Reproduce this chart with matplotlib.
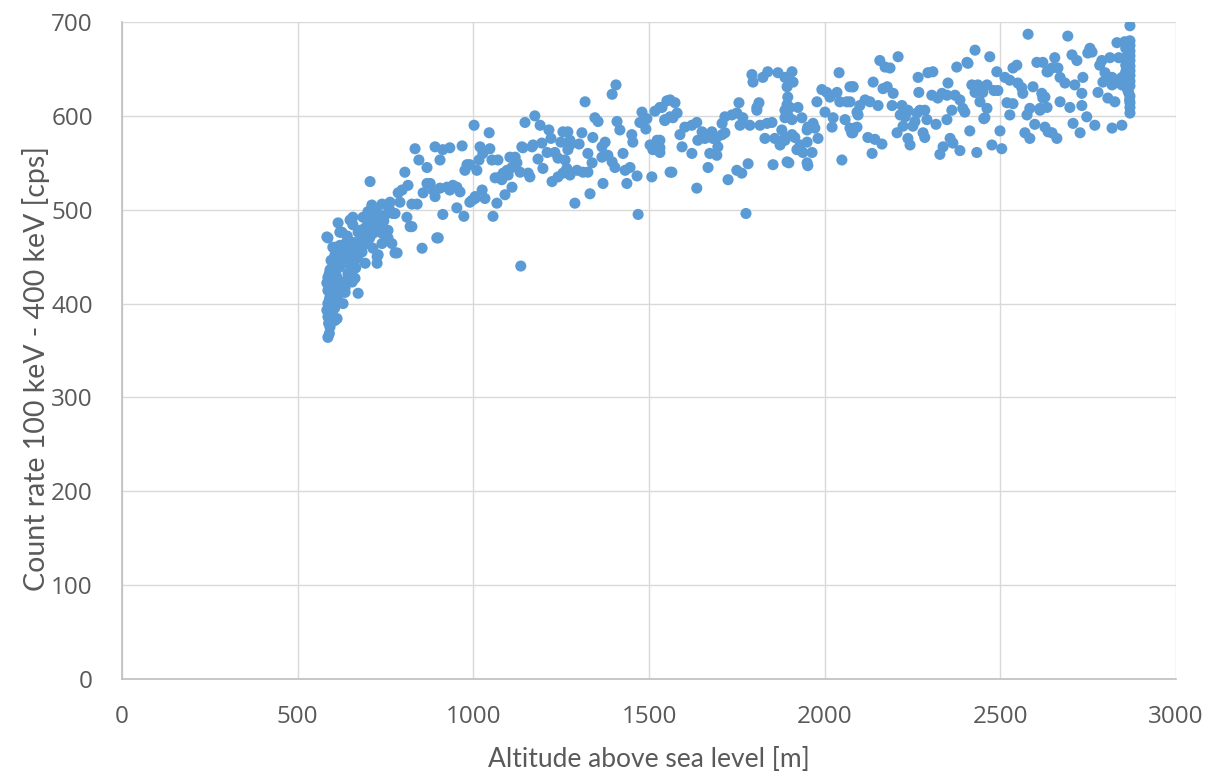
import matplotlib
matplotlib.use("Agg")
import matplotlib.pyplot as plt

# altitude [m] / count rate [cps], split by altitude band
alt_a = [586, 592, 606, 629, 672, 586, 615, 626, 600, 726, 726, 783, 854, 900, 825, 768, 757, 655, 635, 692,
         600, 612, 586, 583, 586, 592, 586, 583, 586, 592,
         635, 615, 655, 663, 640, 612, 643, 620, 606, 626, 606, 635, 655, 672, 683, 729, 714, 700, 740, 757,
         777, 740, 720, 700, 672, 643, 620, 606, 620, 657,
         590, 595, 598, 590, 597, 603, 596, 590, 600, 595, 610, 605, 617, 625,
         706, 711, 740, 754, 763, 771, 791, 786, 797, 814, 805, 834, 845, 868, 891, 905, 913, 933, 968, 982,
         976, 825, 840, 857, 868, 877, 885, 891, 905, 925, 933, 942, 953, 962, 953, 913, 973, 811, 820, 896,
         777, 734, 686, 700, 657, 649, 583, 677, 754, 720,
         680, 690, 710, 725, 745, 700, 715, 735, 660, 670, 650, 685, 705, 645, 630, 665,
         588, 593, 599, 604, 591, 608, 614, 622, 632, 641, 652, 668, 696, 712, 748, 762]
rate_a = [364, 375, 382, 400, 411, 470, 486, 476, 460, 443, 450, 454, 459, 470, 482, 464, 478, 425, 412, 443,
          382, 384, 386, 393, 400, 407, 414, 422, 428, 436,
          417, 418, 423, 427, 425, 428, 432, 439, 443, 446, 452, 450, 452, 454, 455, 452, 459, 464, 464, 470,
          454, 475, 482, 484, 476, 468, 462, 460, 476, 484,
          368, 390, 398, 404, 410, 420, 427, 432, 440, 446, 405, 395, 410, 420,
          530, 505, 506, 505, 508, 496, 508, 518, 521, 526, 540, 565, 553, 545, 567, 553, 564, 566, 568, 548,
          542, 506, 506, 518, 528, 528, 521, 514, 523, 524, 521, 526, 524, 519, 502, 495, 493, 492, 482, 470,
          496, 492, 492, 487, 492, 489, 471, 478, 478, 484,
          470, 480, 490, 498, 488, 498, 475, 480, 465, 448, 440, 462, 470, 458, 455, 438,
          379, 388, 402, 415, 418, 434, 441, 450, 463, 472, 445, 458, 472, 488, 494, 500]

alt_b = [1135, 1056, 1469, 1289, 1332, 1406, 1395, 1318, 1175, 1147, 1190, 1002, 1045, 1215, 1255, 1269, 1309,
         1346, 1355, 1409, 1417, 1480, 1474, 1494, 1491, 1517, 1537, 1551, 1545, 1560, 1221, 1249, 1275, 1301,
         1170, 1138, 1195, 1019, 1047, 1027, 990, 1010, 1016, 1053, 1070, 1104, 1119, 1124, 1110, 1096, 1085,
         1076, 1062, 1081, 1099, 1133, 1156, 1161, 1110, 1090, 1025, 1005, 990, 1033, 1067, 1141, 1167, 1184,
         1198, 1210, 1232, 1241, 1224, 1241, 1255, 1266, 1261, 1269, 1275, 1275, 1295, 1312, 1326, 1326, 1340,
         1366, 1366, 1375, 1338, 1383, 1395, 1403, 1426, 1432, 1446, 1466, 1437, 1369, 1451, 1454, 1508, 1503,
         1511, 1525, 1531, 1523, 1560, 996, 1005,
         1565, 1531, 1594, 1588, 1531, 1545, 1560, 1574, 1568, 1580, 1531]
rate_b = [440, 493, 495, 507, 517, 633, 623, 615, 600, 593, 590, 590, 582, 585, 583, 583, 582,
          598, 594, 594, 585, 604, 593, 597, 586, 605, 609, 616, 595, 599, 576, 572, 574, 570,
          569, 567, 571, 567, 565, 560, 548, 542, 553, 553, 553, 556, 556, 550, 545, 542, 539,
          535, 534, 532, 537, 540, 539, 535, 524, 516, 521, 512, 508, 512, 507, 566, 567, 554,
          544, 561, 561, 555, 530, 535, 539, 544, 553, 564, 569, 537, 542, 540, 540, 560, 577,
          567, 556, 572, 550, 558, 551, 545, 560, 542, 545, 536, 528, 528, 580, 572, 535, 569,
          564, 567, 561, 574, 540, 510, 514,
          540, 566, 567, 580, 609, 596, 617, 614, 598, 603, 574]

alt_c = [1776, 1636, 1725, 1750, 1764, 1782, 1668, 1853, 1893, 1898, 1952, 2049, 1622, 1673, 1693, 1696, 1602,
         1622, 1636, 1651, 1639, 1659, 1679, 1682, 1693, 1708, 1716, 1716, 1736, 1750, 1767, 1759, 1787, 1708,
         1756, 1807, 1813, 1807, 1793, 1796, 1824, 1838, 1867, 1887, 1907, 1910, 1893, 1895, 1893, 1901, 1887,
         1924, 1895, 1887, 1907, 1816, 1836, 1850, 1830, 1858, 1873, 1878, 1887, 1907, 1915, 1887, 1930, 1950,
         1921, 1938, 1964, 1950, 1935, 1952, 1967, 1950, 1972, 1981, 1978, 1992, 2006, 2015, 2035, 2001, 2024,
         2021, 2058, 2043, 2063, 2072, 2081, 2086, 2077, 2095, 2041,
         2135, 2163, 2143, 2123, 2080, 2092, 2072, 2092, 2100, 2115, 2129, 2152, 2072, 2080, 2138, 2166, 2178,
         2195, 2192, 2157, 2172, 2186]
rate_c = [496, 523, 532, 542, 539, 549, 545, 548, 551, 550, 547, 553, 560, 560, 558, 567, 588,
          590, 593, 583, 574, 576, 583, 576, 577, 580, 582, 599, 601, 603, 598, 590, 590, 592,
          614, 609, 614, 606, 644, 636, 641, 647, 646, 641, 647, 636, 631, 620, 612, 609, 606,
          609, 601, 598, 596, 590, 592, 593, 576, 576, 569, 585, 577, 580, 577, 574, 569, 572,
          564, 561, 561, 550, 598, 588, 592, 585, 587, 576, 615, 628, 625, 620, 625, 604, 598,
          588, 596, 615, 615, 631, 631, 587, 582, 601, 646,
          560, 570, 575, 577, 582, 588, 587, 604, 611, 617, 615, 611, 615, 631, 636, 629, 631,
          624, 611, 659, 652, 651]

alt_d = [2328, 2337, 2385, 2433, 2504, 2476, 2357, 2365, 2243, 2237, 2206, 2223, 2251, 2257, 2280, 2285, 2317,
         2348, 2413, 2453, 2499, 2220, 2215, 2229, 2234, 2237, 2271, 2285, 2263, 2291, 2209, 2266, 2294, 2308,
         2268, 2305, 2322, 2348, 2334, 2376, 2405, 2408, 2351, 2371, 2385, 2393, 2399, 2362, 2428, 2470, 2490,
         2419, 2436, 2462, 2450, 2428, 2442, 2462, 2456, 2482, 2493, 2513, 2527, 2536, 2547, 2550, 2561, 2564,
         2519, 2536, 2527, 2576, 2593, 2584, 2570, 2584, 2598, 2579, 2604, 2621, 2633, 2618, 2621, 2613, 2633,
         2627, 2636,
         2692, 2655, 2647, 2664, 2670, 2684, 2636, 2698, 2670, 2627, 2613, 2647, 2661]
rate_d = [559, 567, 563, 561, 565, 569, 576, 571, 569, 576, 582, 589, 589, 594, 582, 577, 591,
          596, 584, 597, 584, 611, 601, 599, 604, 606, 606, 606, 603, 596, 663, 641, 646, 647,
          625, 622, 619, 622, 624, 652, 657, 656, 635, 622, 617, 608, 604, 606, 670, 663, 647,
          633, 633, 633, 625, 625, 615, 608, 598, 627, 627, 641, 638, 651, 654, 635, 630, 624,
          614, 613, 601, 601, 631, 608, 582, 576, 591, 687, 657, 657, 647, 624, 619, 606, 609,
          588, 583,
          685, 662, 651, 651, 641, 635, 647, 609, 615, 620, 608, 582, 576]

alt_e = [2869, 2832, 2854, 2869, 2755, 2749, 2761, 2704, 2718, 2789, 2812, 2783, 2837, 2735, 2712, 2798, 2792,
         2818, 2826, 2818, 2846, 2846,
         2869, 2869, 2869, 2869, 2869, 2869, 2869, 2869, 2869, 2869, 2869, 2869, 2869,
         2857, 2857, 2857, 2857, 2857, 2857,
         2778, 2732, 2806, 2826, 2732, 2746, 2707, 2769, 2818, 2846, 2727,
         2865, 2862, 2866, 2860, 2868]
rate_e = [696, 678, 679, 680, 672, 667, 668, 665, 659, 659, 662, 654, 662, 641, 633, 646, 636,
          641, 635, 633, 641, 633,
          675, 669, 664, 659, 653, 648, 643, 637, 632, 621, 614, 609, 603,
          672, 662, 654, 647, 640, 635,
          625, 624, 619, 615, 611, 599, 592, 590, 587, 590, 582,
          625, 628, 645, 660, 617]

altitude = alt_a + alt_b + alt_c + alt_d + alt_e
count_rate = rate_a + rate_b + rate_c + rate_d + rate_e

title_font = ["Lato", "DejaVu Sans"]
tick_font = ["Open Sans", "DejaVu Sans"]
grey = "#595959"

fig = plt.figure(figsize=(12.18, 7.78), dpi=100)
ax = fig.add_axes([0.1002, 0.1272, 0.8653, 0.8445])

ax.scatter(altitude, count_rate, s=64, color="#5b9bd5", edgecolors="none", zorder=3)

ax.set_xlim(0, 3000)
ax.set_ylim(0, 700)
ax.set_xticks(range(0, 3001, 500))
ax.set_yticks(range(0, 701, 100))
ax.grid(True, color="#d9d9d9", linewidth=1.0, zorder=0)
ax.set_axisbelow(True)
for side in ["top", "right"]:
    ax.spines[side].set_visible(False)
for side in ["left", "bottom"]:
    ax.spines[side].set_color("#bfbfbf")
    ax.spines[side].set_linewidth(1.2)

ax.tick_params(axis="both", length=0, colors=grey)
ax.tick_params(axis="x", pad=19)
ax.tick_params(axis="y", pad=21)
for lab in ax.get_xticklabels() + ax.get_yticklabels():
    lab.set_family(tick_font)
    lab.set_fontsize(17.5)

ax.set_xlabel("Altitude above sea level [m]", family=title_font, fontsize=19, color=grey, labelpad=13)
ax.set_ylabel("Count rate 100 keV - 400 keV [cps]", family=title_font, fontsize=20.5, color=grey)
ax.yaxis.set_label_coords(-0.068, 0.473)

fig.savefig("out.png", dpi=100)
